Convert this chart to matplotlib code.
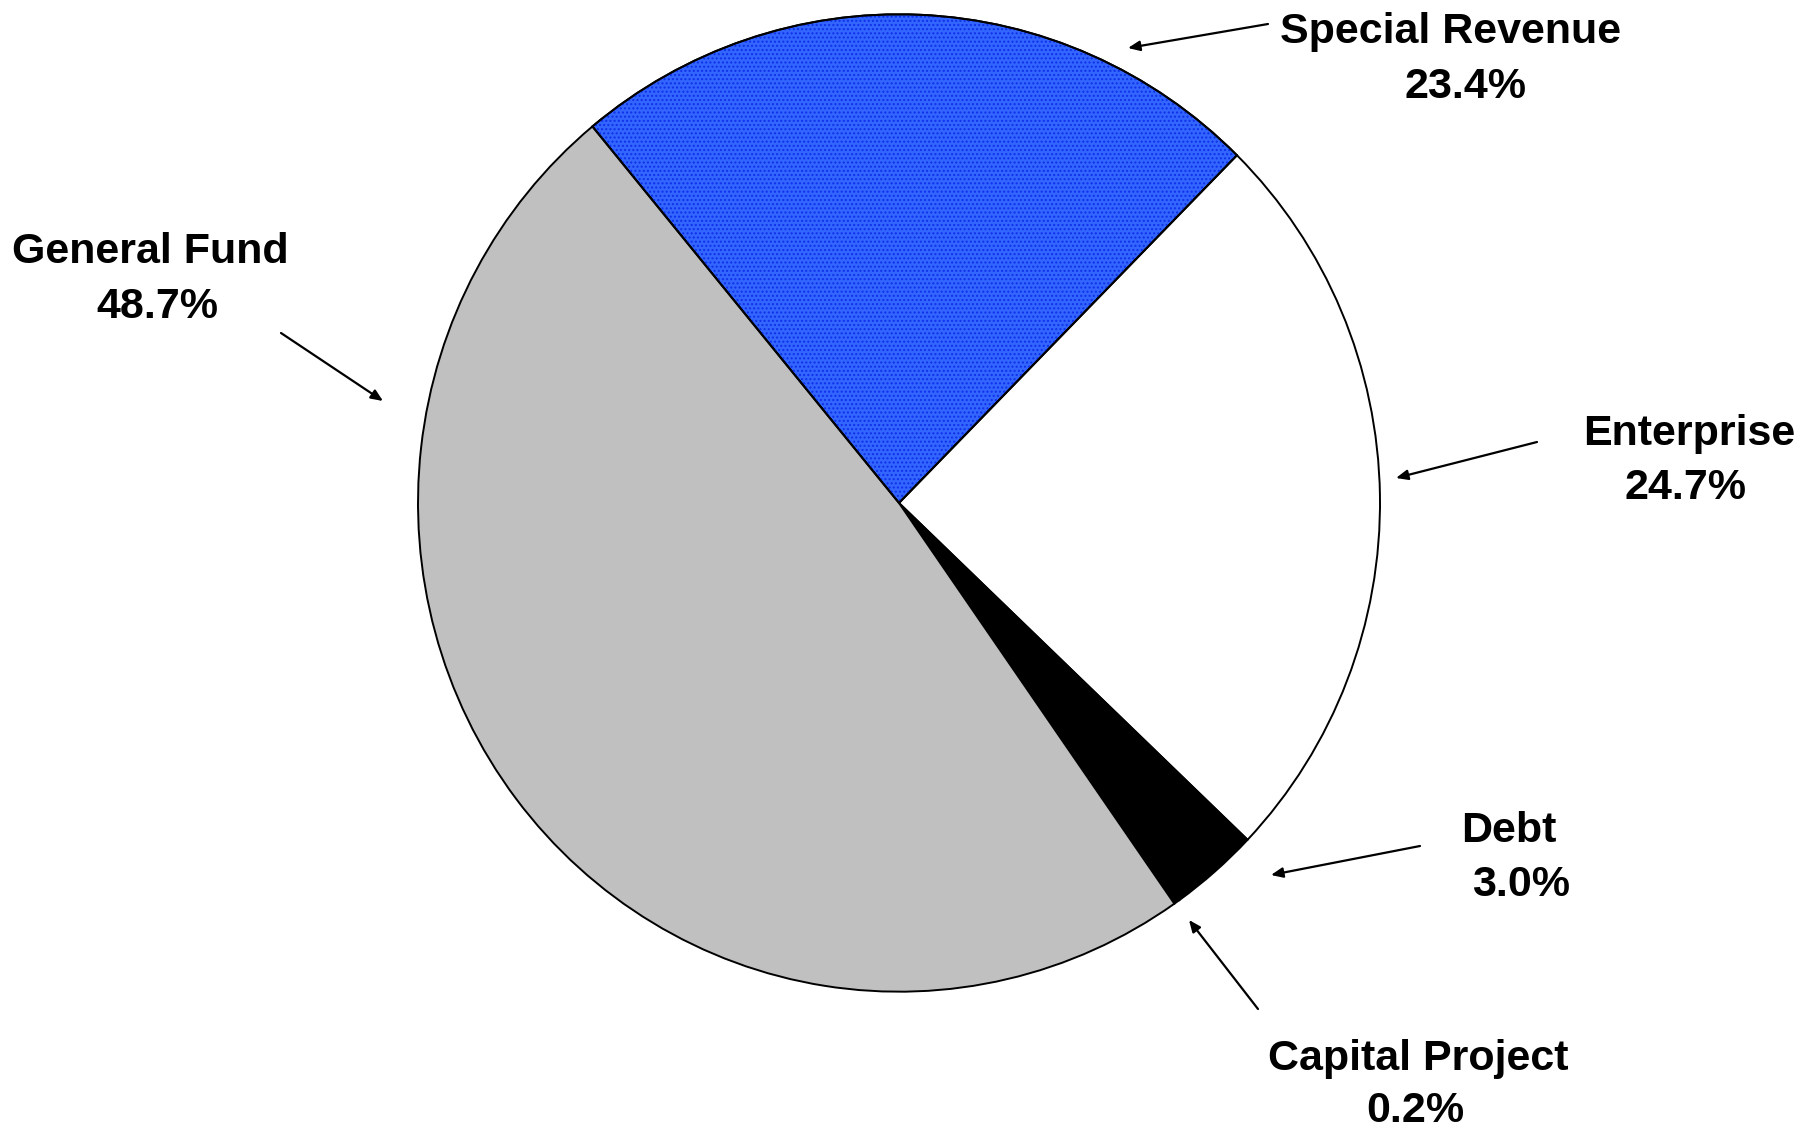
import matplotlib
matplotlib.use("Agg")
import matplotlib.pyplot as plt
from matplotlib.patches import Wedge

# ---- data ----
categories = ["Special Revenue", "Enterprise", "Debt", "Capital Project", "General Fund"]
shares = [23.4, 24.7, 3.0, 0.2, 48.7]
colors = ["#3366FF", "#FFFFFF", "#000000", "#000000", "#C0C0C0"]

W, H = 1818, 1131
YS = 1.016  # slight vertical stretch of the original pie
fig = plt.figure(figsize=(W / 100, H / 100), dpi=100)
ax = fig.add_axes([0, 0, 1, 1])

def py(y):
    return (H - y) / YS

center = (899, py(503))
radius = 481
wedges, _ = ax.pie(shares, colors=colors, startangle=129.6, counterclock=False,
                   center=center, radius=radius, frame=True,
                   wedgeprops=dict(edgecolor="black", linewidth=1.4))
ax.set_aspect("auto")
ax.set_xlim(0, W)
ax.set_ylim(0, H / YS)
ax.axis("off")

# dotted pattern on Special Revenue
sr = wedges[0]
ax.add_patch(Wedge(sr.center, sr.r, sr.theta1, sr.theta2, facecolor="none",
                   edgecolor="#1030E8", hatch="....", linewidth=0))
ax.add_patch(Wedge(sr.center, sr.r, sr.theta1, sr.theta2, facecolor="none",
                   edgecolor="black", linewidth=1.4))

font = dict(family="Liberation Sans", weight="bold", size=31, color="black",
            ha="center", va="center")

# label layout: (name line centre, value line centre) in pixel coords
label_pos = {
    "General Fund": ((150, 252), (157, 307)),
    "Special Revenue": ((1451, 32), (1466, 87)),
    "Enterprise": ((1689, 434), (1686, 488)),
    "Debt": ((1509, 831), (1521, 885)),
    "Capital Project": ((1418, 1059), (1415, 1111)),
}
for name, val in zip(categories, shares):
    (x1, y1), (x2, y2) = label_pos[name]
    ax.text(x1, py(y1), name, **font)
    ax.text(x2, py(y2), f"{val:.1f}%", **font)

arrows = [
    ((281, 333), (383, 401)),
    ((1268, 24), (1128, 48)),
    ((1537, 442), (1396, 478)),
    ((1420, 846), (1271, 875)),
    ((1258, 1009), (1189, 920)),
]
for (tx, ty), (hx, hy) in arrows:
    ax.annotate("", xy=(hx, py(hy)), xytext=(tx, py(ty)),
                arrowprops=dict(arrowstyle="-|>,head_length=0.7,head_width=0.3",
                                color="black", lw=1.6, shrinkA=0, shrinkB=0))

fig.savefig("out.png", dpi=100, facecolor="white")
